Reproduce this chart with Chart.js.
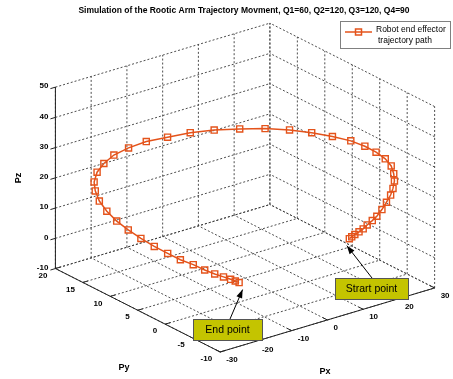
<!DOCTYPE html>
<html>
<head>
<meta charset="utf-8">
<script src="https://cdn.jsdelivr.net/npm/chart.js@4.4.0/dist/chart.umd.min.js"></script>
<style>
  html, body { margin: 0; padding: 0; background: #fff; }
  #wrap { width: 453px; height: 379px; }
</style>
</head>
<body>
<div id="wrap"><canvas id="chart" width="453" height="379"></canvas></div>
<script>
const trajPx = [21.5, 21.4, 21.5, 21.9, 22.3, 22.5, 23.0, 23.2, 23.7, 24.2,
    24.6, 24.8, 24.9, 24.7, 24.3, 23.1, 21.6, 19.7, 17.3, 14.0,
    10.2, 6.0, 1.0, -4.1, -9.4, -14.1, -18.6, -22.4, -24.9, -26.7,
    -27.2, -27.1, -26.4, -25.0, -23.4, -21.3, -19.0, -17.0, -15.0, -13.1,
    -11.5, -10.1, -8.8, -7.9, -7.4, -7.1, -7.1, -7.5, -7.8];
const trajPy = [0, -0.5, -1, -1.5, -2, -2.6, -3.2, -3.9, -4.5, -5,
    -5.5, -5.8, -6, -6, -5.8, -5.5, -4.8, -4, -3, -1.8,
    -0.5, 0.8, 2, 3.3, 4.5, 5.8, 7, 8.4, 10, 11.5,
    13, 14.3, 15.3, 16, 16.3, 16.3, 16, 15.2, 14.2, 13,
    11.6, 10.2, 8.7, 7.2, 5.7, 4.3, 3, 1.9, 1];
const trajPz = [0.1, 1.2, 2.4, 3.6, 4.9, 6.7, 8.5, 10.5, 13.1, 15.8,
    18.5, 20.9, 23.5, 26.0, 28.5, 31.0, 33.1, 35.0, 36.7, 38.2,
    39.6, 40.8, 41.9, 42.4, 42.8, 42.4, 41.4, 40.0, 37.3, 34.2,
    30.2, 26.1, 21.7, 17.6, 13.4, 9.3, 5.5, 2.6, 0.0, -2.2,
    -3.8, -5.1, -5.8, -6.5, -6.6, -6.4, -6.0, -5.4, -5.0];

const pxTicks = [-30, -20, -10, 0, 10, 20, 30];
const pyTicks = [-10, -5, 0, 5, 10, 15, 20];
const pzTicks = [-10, 0, 10, 20, 30, 40, 50];

const titleText = 'Simulation of the Rootic Arm Trajectory Movment, Q1=60, Q2=120, Q3=120, Q4=90';
const legendLines = ['Robot end effector', 'trajectory path'];

const ORANGE = '#e4531b';

// orthographic view of the box (az/el like matlab default)
function proj(px, py, pz) {
    return {
        x: 51 + 3.667 * (px + 30) + 5.633 * (20 - py),
        y: 271 - 1.1 * (px + 30) + 2.867 * (20 - py) - 3.117 * (pz + 10)
    };
}

const GAP = { x: NaN, y: NaN };
function toPoints(segList) {
    const out = [];
    segList.forEach(s => {
        out.push(proj(s[0][0], s[0][1], s[0][2]), proj(s[1][0], s[1][1], s[1][2]), GAP);
    });
    return out;
}

const xMin = pxTicks[0], xMax = pxTicks[pxTicks.length - 1];
const yMin = pyTicks[0], yMax = pyTicks[pyTicks.length - 1];
const zMin = pzTicks[0], zMax = pzTicks[pzTicks.length - 1];

// grid on floor and two back walls
const gridSegs = [];
pxTicks.forEach(px => {
    gridSegs.push([[px, yMin, zMin], [px, yMax, zMin]]);
    gridSegs.push([[px, yMax, zMin], [px, yMax, zMax]]);
});
pyTicks.forEach(py => {
    gridSegs.push([[xMin, py, zMin], [xMax, py, zMin]]);
    gridSegs.push([[xMax, py, zMin], [xMax, py, zMax]]);
});
pzTicks.forEach(pz => {
    gridSegs.push([[xMin, yMax, pz], [xMax, yMax, pz]]);
    gridSegs.push([[xMax, yMin, pz], [xMax, yMax, pz]]);
});

// axis lines + tick marks
const axisSegs = [
    [[xMin, yMax, zMin], [xMin, yMax, zMax]],
    [[xMin, yMax, zMin], [xMin, yMin, zMin]],
    [[xMin, yMin, zMin], [xMax, yMin, zMin]]
];
pzTicks.forEach(pz => axisSegs.push([[xMin, yMax, pz], [xMin - 1.4, yMax, pz]]));
pyTicks.forEach(py => axisSegs.push([[xMin, py, zMin], [xMin + 1.4, py, zMin]]));
pxTicks.forEach(px => axisSegs.push([[px, yMin, zMin], [px, yMin + 0.8, zMin]]));

const trajPoints = trajPx.map((px, i) => proj(px, trajPy[i], trajPz[i]));

function arrow(ctx, x0, y0, x1, y1) {
    const a = Math.atan2(y1 - y0, x1 - x0);
    ctx.strokeStyle = '#000';
    ctx.fillStyle = '#000';
    ctx.lineWidth = 1;
    ctx.beginPath();
    ctx.moveTo(x0, y0);
    ctx.lineTo(x1, y1);
    ctx.stroke();
    ctx.beginPath();
    ctx.moveTo(x1, y1);
    ctx.lineTo(x1 - 9 * Math.cos(a - 0.35), y1 - 9 * Math.sin(a - 0.35));
    ctx.lineTo(x1 - 9 * Math.cos(a + 0.35), y1 - 9 * Math.sin(a + 0.35));
    ctx.closePath();
    ctx.fill();
}

function textBox(ctx, label, x, y, w, h) {
    ctx.fillStyle = '#c4c400';
    ctx.fillRect(x, y, w, h);
    ctx.strokeStyle = '#555';
    ctx.lineWidth = 1;
    ctx.strokeRect(x + 0.5, y + 0.5, w, h);
    ctx.fillStyle = '#000';
    ctx.font = '10.5px "Liberation Sans", Arial, sans-serif';
    ctx.textAlign = 'center';
    ctx.textBaseline = 'middle';
    ctx.fillText(label, x + w / 2, y + h / 2 + 1);
}

const decorPlugin = {
    id: 'decor',
    afterDatasetsDraw(chart) {
        const ctx = chart.ctx;
        const sx = chart.scales.x, sy = chart.scales.y;
        const P = (px, py, pz) => {
            const p = proj(px, py, pz);
            return { x: sx.getPixelForValue(p.x), y: sy.getPixelForValue(p.y) };
        };
        ctx.save();
        ctx.fillStyle = '#000';
        ctx.font = 'bold 8px "Liberation Sans", Arial, sans-serif';
        ctx.textBaseline = 'middle';

        // z tick labels
        ctx.textAlign = 'right';
        pzTicks.forEach(pz => {
            const p = P(xMin, yMax, pz);
            ctx.fillText(String(pz), p.x - 7, p.y - 1);
        });
        // Py tick labels
        pyTicks.forEach(py => {
            const p = P(xMin, py, zMin);
            ctx.fillText(String(py), p.x - 8, p.y + 7);
        });
        // Px tick labels
        ctx.textAlign = 'left';
        pxTicks.forEach(px => {
            const p = P(px, yMin, zMin);
            ctx.fillText(String(px), p.x + 6, p.y + 8);
        });

        // axis names
        ctx.font = 'bold 9px "Liberation Sans", Arial, sans-serif';
        ctx.textAlign = 'center';
        ctx.fillText('Px', 325, 372);
        ctx.fillText('Py', 124, 368);
        ctx.save();
        ctx.translate(19, 178);
        ctx.rotate(-Math.PI / 2);
        ctx.fillText('Pz', 0, 0);
        ctx.restore();

        // title
        ctx.font = 'bold 8.5px "Liberation Sans", Arial, sans-serif';
        ctx.fillText(titleText, 244, 10.5);

        // legend
        ctx.fillStyle = '#fff';
        ctx.fillRect(340, 21, 110, 27);
        ctx.strokeStyle = '#808080';
        ctx.lineWidth = 1;
        ctx.strokeRect(340.5, 21.5, 110, 27);
        ctx.strokeStyle = ORANGE;
        ctx.lineWidth = 1.5;
        ctx.beginPath();
        ctx.moveTo(345, 32);
        ctx.lineTo(372, 32);
        ctx.stroke();
        ctx.strokeRect(355.5, 29, 6, 6);
        ctx.fillStyle = '#000';
        ctx.font = '8.5px "Liberation Sans", Arial, sans-serif';
        ctx.textAlign = 'left';
        ctx.fillText(legendLines[0], 376, 29.5);
        ctx.fillText(legendLines[1], 378, 40.5);

        // annotations pointing at first / last sample
        const n = trajPx.length;
        const s = P(trajPx[0], trajPy[0], trajPz[0]);
        const e = P(trajPx[n - 1], trajPy[n - 1], trajPz[n - 1]);
        arrow(ctx, 372, 278, s.x - 2.5, s.y + 7);
        arrow(ctx, 230, 319, e.x + 3.5, e.y + 7);
        textBox(ctx, 'Strart point', 335, 278, 73, 21);
        textBox(ctx, 'End point', 193, 319, 69, 21);
        ctx.restore();
    }
};

new Chart(document.getElementById('chart'), {
    type: 'scatter',
    data: {
        datasets: [
            {
                label: 'Robot end effector trajectory path',
                data: trajPoints,
                showLine: true,
                borderColor: ORANGE,
                borderWidth: 1.5,
                pointStyle: 'rect',
                pointRadius: 4.3,
                pointBorderWidth: 1.4,
                pointBorderColor: ORANGE,
                pointBackgroundColor: 'rgba(0,0,0,0)',
                tension: 0
            },
            {
                label: 'axes',
                data: toPoints(axisSegs),
                showLine: true,
                spanGaps: false,
                borderColor: '#222',
                borderWidth: 1,
                pointRadius: 0
            },
            {
                label: 'grid',
                data: toPoints(gridSegs),
                showLine: true,
                spanGaps: false,
                borderColor: '#3a3a3a',
                borderWidth: 0.9,
                borderDash: [2, 2],
                pointRadius: 0
            }
        ]
    },
    options: {
        responsive: false,
        animation: false,
        layout: { padding: 0 },
        plugins: {
            legend: { display: false },
            tooltip: { enabled: false },
            title: { display: false }
        },
        scales: {
            x: { type: 'linear', min: 0, max: 453, display: false },
            y: { type: 'linear', min: 0, max: 379, reverse: true, display: false }
        }
    },
    plugins: [decorPlugin]
});
</script>
</body>
</html>
